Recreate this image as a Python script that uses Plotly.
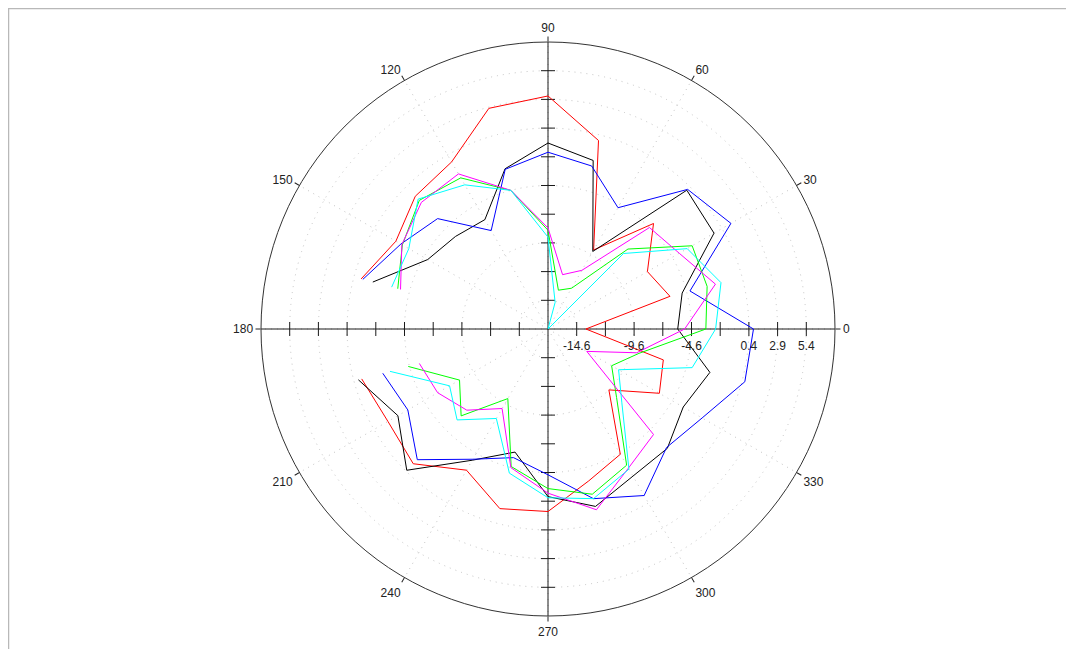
import plotly.graph_objects as go

W, H = 1074, 649

# angles (degrees); no sample drawn between 165 and 195
theta = [195, 210, 225, 240, 255, 270, 285, 300, 315, 330, 345, 360,
         15, 30, 45, 60, 75, 90, 105, 120, 135, 150, 165]

red = [-0.3, -1.0, -0.5, -2.9, -0.9, -1.2, -3.4, -4.5, -9.6, -5.9, -6.7, -13.8,
       -6.1, -7.1, -4.1, -9.15, -0.1, 3.2, 2.8, -0.3, -0.75, -1.8, -0.25]
black = [0.0, -2.0, 0.3, -3.9, -6.0, -2.5, -1.1, -2.3, -2.4, -3.5, -2.5, -5.8,
         -5.0, -0.4, 0.0, -9.3, -1.9, -0.9, -2.65, -6.1, -5.7, -5.0, -1.3]
blue = [-2.2, -3.0, -1.0, -4.0, -5.5, -4.4, -1.8, -0.35, -2.5, -1.6, 0.65, 0.8,
        -4.3, 1.3, 0.1, -4.9, -2.4, -1.7, -2.7, -7.2, -3.5, -2.3, -0.4]
green = [-4.5, -8.2, -6.4, -10.1, -4.7, -3.2, -2.2, -3.4, -8.65, -10.7, -8.9, -3.35,
         -2.75, -2.6, -7.25, -13.0, -13.6, -8.5, -4.6, -1.9, -1.25, -2.45, -3.55]
magenta = [-5.5, -6.0, -7.1, -9.1, -4.6, -2.8, -0.8, -3.1, -4.1, -13.2, -9.1, -5.2,
           -2.0, -3.9, -4.6, -11.2, -12.2, -8.3, -4.6, -1.5, -1.5, -2.4, -3.8]
cyan = [-2.85, -7.2, -5.9, -8.1, -4.1, -2.4, -1.8, -3.0, -8.0, -10.0, -4.1, -2.5,
        -1.5, -3.1, -7.8, -17.1, -14.7, -9.1, -4.6, -2.6, -1.1, -3.1, -3.0]

series = [("red", red, "#ff0000"), ("black", black, "#000000"),
          ("blue", blue, "#0000ff"), ("green", green, "#00ff00"),
          ("magenta", magenta, "#ff00ff"), ("cyan", cyan, "#00ffff")]

r_min, r_max = -17.1, 7.9
axis_ticks = [-14.6, -12.1, -9.6, -7.1, -4.6, -2.1, 0.4, 2.9, 5.4]
label_ticks = [-14.6, -9.6, -4.6, 0.4, 2.9, 5.4]
angle_ticks = list(range(0, 360, 30))

fig = go.Figure()

# full cross-hair axes
cr, ct = [], []
for a in [0, 90, 180, 270]:
    cr += [r_min, r_max, None]
    ct += [a, a, None]
fig.add_trace(go.Scatterpolar(r=cr, theta=ct, mode="lines",
                              line=dict(color="#1a1a1a", width=1),
                              hoverinfo="skip", showlegend=False))

# tick marks on the cross-hair
for angs, sym in [([0, 180], "line-ns"), ([90, 270], "line-ew")]:
    tr, tt = [], []
    for a in angs:
        for v in axis_ticks:
            tr.append(v)
            tt.append(a)
    fig.add_trace(go.Scatterpolar(r=tr, theta=tt, mode="markers",
                                  marker=dict(symbol=sym, size=10,
                                              line=dict(color="#1a1a1a", width=1)),
                                  hoverinfo="skip", showlegend=False))

for name, vals, col in series:
    fig.add_trace(go.Scatterpolar(r=vals, theta=theta, mode="lines", name=name,
                                  line=dict(color=col, width=1),
                                  showlegend=False))

# page body adds an 8px offset, so positions are relative to the figure
cx, cy, rad = 540, 321, 287
grid_dash = "1px,5px"
fig.update_layout(
    width=W, height=H,
    margin=dict(l=0, r=0, t=0, b=0),
    paper_bgcolor="white",
    font=dict(family="Liberation Sans, Arial, sans-serif", size=11, color="#222222"),
    polar=dict(
        domain=dict(x=[(cx - rad) / W, (cx + rad) / W],
                    y=[(H - cy - rad) / H, (H - cy + rad) / H]),
        bgcolor="white",
        radialaxis=dict(range=[r_min, r_max], tickvals=label_ticks,
                        ticktext=[str(v) for v in label_ticks],
                        angle=0, side="clockwise", showline=False,
                        ticks="outside", ticklen=6, tickcolor="rgba(0,0,0,0)",
                        gridcolor="#c4c4c4", griddash=grid_dash, gridwidth=1,
                        tickfont=dict(size=12, color="#222222")),
        angularaxis=dict(rotation=0, direction="counterclockwise",
                         tickvals=angle_ticks, ticktext=[str(a) for a in angle_ticks],
                         ticks="outside", ticklen=5, tickcolor="#222222",
                         showline=True, linecolor="#333333", linewidth=1,
                         gridcolor="#c4c4c4", griddash=grid_dash, gridwidth=1,
                         tickfont=dict(size=12, color="#222222")),
    ),
    shapes=[dict(type="rect", xref="paper", yref="paper",
                 x0=0.5 / W, x1=1.02, y0=-0.02, y1=1 - 0.5 / H,
                 line=dict(color="#b8b8b8", width=1.5))],
)

fig.write_html("out.html")
